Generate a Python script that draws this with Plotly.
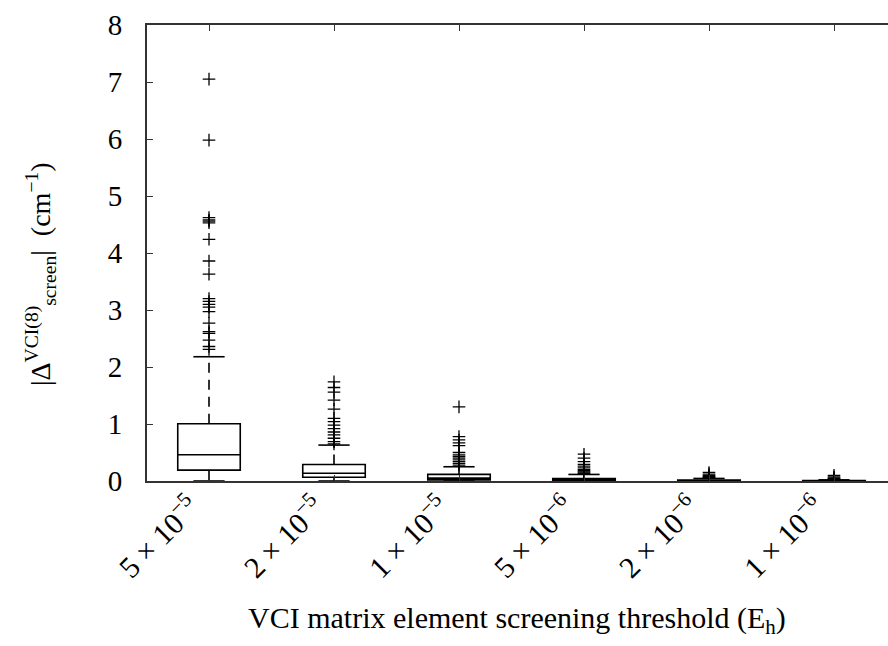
import plotly.graph_objects as go

# Screening thresholds (E_h) shown on the category axis
thresholds = [
    "5 × 10<sup>−5</sup>",
    "2 × 10<sup>−5</sup>",
    "1 × 10<sup>−5</sup>",
    "5 × 10<sup>−6</sup>",
    "2 × 10<sup>−6</sup>",
    "1 × 10<sup>−6</sup>",
]

# Box statistics of |Δ_screen^VCI(8)| in cm^-1
q1 = [0.19, 0.065, 0.02, 0.006, 0.002, 0.001]
median = [0.46, 0.135, 0.05, 0.018, 0.006, 0.003]
q3 = [1.005, 0.29, 0.117, 0.042, 0.016, 0.008]
lower_whisker = [0.0, 0.0, 0.0, 0.0, 0.0, 0.0]
upper_whisker = [2.18, 0.63, 0.25, 0.115, 0.045, 0.02]

# Outlying points per threshold
outliers = [
    [7.05, 5.98, 4.62, 4.58, 4.56, 4.53, 4.24, 3.86, 3.63, 3.20, 3.15, 3.10,
     3.05, 2.97, 2.77, 2.62, 2.59, 2.47, 2.36, 2.31],
    [1.74, 1.64, 1.56, 1.42, 1.26, 1.10, 1.04, 0.98, 0.92, 0.86, 0.81, 0.75,
     0.69, 0.65],
    [1.30, 0.78, 0.72, 0.67, 0.62, 0.50, 0.46, 0.43, 0.40, 0.37, 0.34, 0.31,
     0.28],
    [0.47, 0.40, 0.34, 0.29, 0.26, 0.23, 0.20, 0.18, 0.16, 0.14, 0.13],
    [0.15, 0.12, 0.10, 0.08, 0.07, 0.06, 0.05],
    [0.10, 0.07, 0.05, 0.04, 0.03],
]

BOX_WIDTH = 0.5
CAP_HALF = 0.125
LINE = "black"
FONT = "Liberation Serif, DejaVu Serif, serif"

positions = list(range(len(thresholds)))

fig = go.Figure()

# Boxes (quartiles and median only; whiskers are drawn separately so they can be dashed)
fig.add_trace(go.Box(
    x=positions, q1=q1, median=median, q3=q3,
    lowerfence=q1, upperfence=q3,
    width=BOX_WIDTH, whiskerwidth=0,
    fillcolor="white", line=dict(color=LINE, width=1.6),
    boxpoints=False, hoverinfo="skip", showlegend=False,
))

# Dashed whiskers
wx, wy = [], []
for i in positions:
    wx += [i, i, None, i, i, None]
    wy += [q3[i], upper_whisker[i], None, q1[i], lower_whisker[i], None]
fig.add_trace(go.Scatter(
    x=wx, y=wy, mode="lines",
    line=dict(color=LINE, width=1.6, dash="10px,7px"),
    hoverinfo="skip", showlegend=False,
))

# Whisker caps
cx, cy = [], []
for i in positions:
    cx += [i - CAP_HALF, i + CAP_HALF, None, i - CAP_HALF, i + CAP_HALF, None]
    cy += [upper_whisker[i], upper_whisker[i], None,
           lower_whisker[i], lower_whisker[i], None]
fig.add_trace(go.Scatter(
    x=cx, y=cy, mode="lines",
    line=dict(color=LINE, width=1.6),
    hoverinfo="skip", showlegend=False,
))

# Outliers as plus signs
ox, oy = [], []
for i in positions:
    ox += [i] * len(outliers[i])
    oy += outliers[i]
fig.add_trace(go.Scatter(
    x=ox, y=oy, mode="markers",
    marker=dict(symbol="cross-thin", size=9, line=dict(color=LINE, width=1.3)),
    hoverinfo="skip", showlegend=False,
))

fig.update_layout(
    width=888, height=646,
    margin=dict(l=147, r=0, t=25, b=165),
    plot_bgcolor="white", paper_bgcolor="white",
    font=dict(family=FONT, size=24, color="black"),
    annotations=[
        dict(text="VCI matrix element screening threshold (E<sub>h</sub>)",
             xref="paper", yref="paper", x=0.499, y=-0.305,
             xanchor="center", yanchor="middle", showarrow=False,
             font=dict(family=FONT, size=30)),
        dict(text="|Δ<sup>VCI(8)</sup><sub>screen</sub>|  (cm<sup>−1</sup>)",
             xref="paper", yref="paper", x=-0.143, y=0.454,
             xanchor="center", yanchor="middle", textangle=-90,
             showarrow=False, font=dict(family=FONT, size=28)),
    ],
)

fig.update_xaxes(
    range=[-0.496, 5.432],
    tickmode="array", tickvals=positions, ticktext=thresholds,
    tickangle=-45, ticks="inside", ticklen=6, tickcolor="#333",
    showline=True, linecolor="#333", linewidth=2, mirror="ticks",
    showgrid=False, zeroline=False,
    tickfont=dict(family=FONT, size=30),
    ticklabelshift=-18, ticklabelstandoff=-5,
)

fig.update_yaxes(
    range=[0, 8], tickmode="linear", tick0=0, dtick=1,
    ticks="inside", ticklen=6, tickcolor="#333",
    showline=True, linecolor="#333", linewidth=2,
    showgrid=False, zeroline=False,
    tickfont=dict(family=FONT, size=29), ticklabelstandoff=17,
)

fig.write_html("out.html")
